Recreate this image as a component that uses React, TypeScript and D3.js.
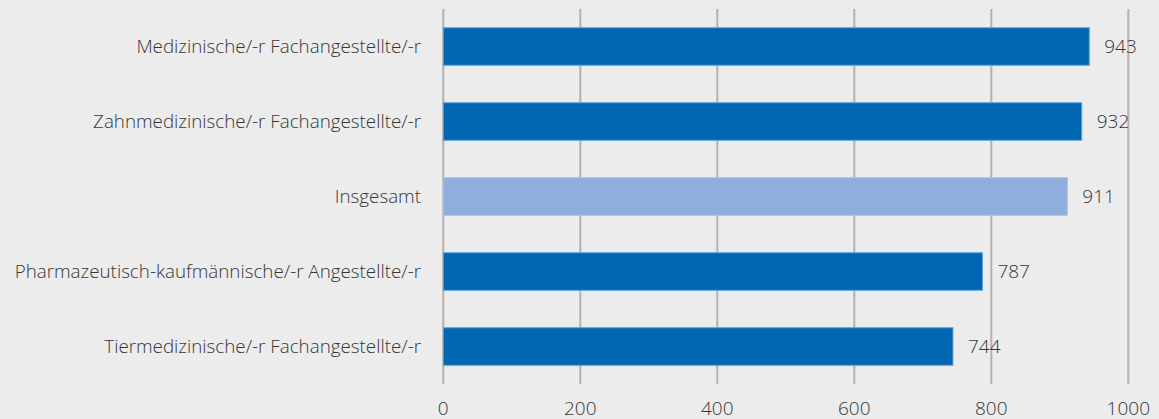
import React from "react";
import * as d3 from "d3";

const categories = [
  "Medizinische/-r Fachangestellte/-r",
  "Zahnmedizinische/-r Fachangestellte/-r",
  "Insgesamt",
  "Pharmazeutisch-kaufmännische/-r Angestellte/-r",
  "Tiermedizinische/-r Fachangestellte/-r",
];
const values = [943, 932, 911, 787, 744];
const highlight = [false, false, true, false, false];
const ticks = [0, 200, 400, 600, 800, 1000];

const W = 1159;
const H = 419;
const FONT = "'Open Sans', sans-serif";
const TEXT = "#363636";

export default function App() {
  const x = d3.scaleLinear().domain([0, 1000]).range([443.3, 1128.3]);
  const y = d3.scaleBand<string>().domain(categories).range([9, 384]).paddingInner(0.5).paddingOuter(0.25);

  return (
    <svg width={W} height={H} style={{ position: "absolute", left: 0, top: 0 }}>
      <rect width={W} height={H} fill="#ececec" />
      {ticks.map((t) => (
        <g key={t}>
          <line x1={x(t)} x2={x(t)} y1={9} y2={384} stroke="#b3b3b3" strokeWidth={2} />
          <text x={x(t)} y={414.5} textAnchor="middle" fontFamily={FONT} fontWeight={300} fontSize={19} fill={TEXT}>
            {t}
          </text>
        </g>
      ))}
      {categories.map((c, i) => {
        const yy = y(c)!;
        const bh = y.bandwidth();
        return (
          <g key={c}>
            <rect
              x={x(0)}
              y={yy}
              width={x(values[i]) - x(0)}
              height={bh}
              fill={highlight[i] ? "#8eaedd" : "#0066b2"}
              stroke={highlight[i] ? "#a6c0e6" : "#5f9fd6"}
              strokeWidth={1}
            />
            <text x={x(values[i]) + 15} y={yy + bh / 2} dy="0.36em" fontFamily={FONT} fontWeight={300} fontSize={19} fill={TEXT}>
              {values[i]}
            </text>
            <text x={421} y={yy + bh / 2} dy="0.35em" textAnchor="end" fontFamily={FONT} fontWeight={300} fontSize={18.8} fill={TEXT}>
              {c}
            </text>
          </g>
        );
      })}
    </svg>
  );
}
